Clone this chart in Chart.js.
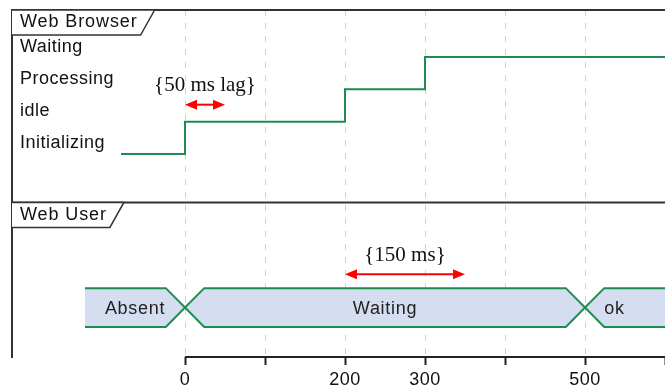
<!DOCTYPE html>
<html><head><meta charset="utf-8">
<script src="https://cdn.jsdelivr.net/npm/chart.js@4.4.1/dist/chart.umd.min.js"></script>
<style>html,body{margin:0;padding:0;background:#fff;}canvas{display:block;}</style>
</head><body>
<canvas id="c" width="665" height="390"></canvas>
<script>
// ---- data ----
const laneTitles = ['Web Browser', 'Web User'];
const browserStates = ['Initializing', 'idle', 'Processing', 'Waiting'];
const browserTimes = [-80, 0, 200, 300];
const browserValues = ['Initializing', 'idle', 'Processing', 'Waiting'];
const userTimes = [-125, 0, 500];
const userStates = ['Absent', 'Waiting', 'ok'];
const endTime = 600;
const tickTimes = [0, 100, 200, 300, 400, 500, 600];
const tickLabels = ['0', '', '200', '300', '', '500', ''];
const constraintFrom = [0, 200];
const constraintTo = [50, 350];
const constraintLabels = ['{50 ms lag}', '{150 ms}'];
const constraintLane = ['browser', 'user'];

// ---- layout / style constants ----
const X_MIN = -216.25;
const Y_MIN = -6.28, Y_MAX = 4.455;
const USER_MID = -4.75, USER_HALF = 0.6, SEPARATOR = -1.5;
const CROSS = 24; // half-width of state transition (ms)
const GREEN = '#1e8c50', BAND = '#d5def0', INK = '#222';
const SANS = '"Liberation Sans", Arial, sans-serif';
const SERIF = '"Liberation Serif", "Times New Roman", serif';

// browser stepped line
const browserData = browserTimes.map((t, i) => ({x: t, y: browserStates.indexOf(browserValues[i])}));
browserData.push({x: endTime, y: browserStates.indexOf(browserValues[browserValues.length - 1])});

// user band polygons & outlines
const bandTop = USER_MID + USER_HALF, bandBot = USER_MID - USER_HALF;
const lastIdx = userStates.length - 1;
const span = i => [userTimes[i], i < lastIdx ? userTimes[i + 1] : endTime];
const fills = userStates.map((s, i) => {
  const [t0, t1] = span(i);
  const pts = [];
  if (i > 0) { pts.push({x: t0 + CROSS, y: bandTop}); } else { pts.push({x: t0, y: bandTop}); }
  if (i < lastIdx) { pts.push({x: t1 - CROSS, y: bandTop}, {x: t1, y: USER_MID}, {x: t1 - CROSS, y: bandBot}); }
  else { pts.push({x: t1, y: bandTop}, {x: t1, y: bandBot}); }
  if (i > 0) { pts.push({x: t0 + CROSS, y: bandBot}, {x: t0, y: USER_MID}); } else { pts.push({x: t0, y: bandBot}); }
  return pts;
});
function outline(startTop) {
  const pts = [];
  userStates.forEach((s, i) => {
    const [t0, t1] = span(i);
    const yy = ((i % 2 === 0) === startTop) ? bandTop : bandBot;
    pts.push({x: i > 0 ? t0 + CROSS : t0, y: yy});
    pts.push({x: i < lastIdx ? t1 - CROSS : t1, y: yy});
    if (i < lastIdx) pts.push({x: t1, y: USER_MID});
  });
  return pts;
}

const datasets = [
  {data: browserData, stepped: 'before', borderColor: GREEN, borderWidth: 2, pointRadius: 0, fill: false, order: 0},
  {data: outline(true), borderColor: GREEN, borderWidth: 2, pointRadius: 0, fill: false, tension: 0, order: 0},
  {data: outline(false), borderColor: GREEN, borderWidth: 2, pointRadius: 0, fill: false, tension: 0, order: 0},
  ...fills.map(p => ({data: p, borderColor: 'transparent', backgroundColor: BAND, fill: 'shape', pointRadius: 0, tension: 0, order: 1}))
];

function stateAt(t) {
  let idx = 0;
  browserTimes.forEach((bt, i) => { if (bt <= t) idx = i; });
  return browserStates.indexOf(browserValues[idx]);
}

const deco = {
  id: 'deco',
  beforeDraw(chart) { chart.ctx.letterSpacing = '0.5px'; },
  afterDraw(chart) {
    const {ctx, chartArea: a, scales: {x, y}} = chart;
    ctx.save();
    // time axis line
    ctx.strokeStyle = INK; ctx.lineWidth = 2;
    ctx.beginPath(); ctx.moveTo(x.getPixelForValue(tickTimes[0]), a.bottom); ctx.lineTo(a.right, a.bottom); ctx.stroke();
    // lane frames
    const laneTops = [a.top, y.getPixelForValue(SEPARATOR)];
    ctx.strokeStyle = '#333';
    laneTops.forEach(yy => { ctx.lineWidth = 2; ctx.beginPath(); ctx.moveTo(a.left, yy); ctx.lineTo(a.right, yy); ctx.stroke(); });
    ctx.font = '18px ' + SANS;
    ctx.letterSpacing = '0.9px';
    laneTops.forEach((yy, i) => {
      const tw = ctx.measureText(laneTitles[i]).width;
      const br = a.left + 8 + tw + 3, tr = br + 14, h = 25;
      ctx.beginPath();
      ctx.moveTo(a.left, yy); ctx.lineTo(tr, yy); ctx.lineTo(br, yy + h); ctx.lineTo(a.left, yy + h);
      ctx.fillStyle = '#fff'; ctx.fill();
      ctx.lineWidth = 1.5; ctx.strokeStyle = '#333'; ctx.stroke();
      ctx.fillStyle = '#111'; ctx.textAlign = 'left'; ctx.textBaseline = 'middle';
      ctx.fillText(laneTitles[i], a.left + 8, yy + 12.5);
    });
    // user state labels
    ctx.letterSpacing = '0.7px';
    ctx.fillStyle = '#222';
    const ym = y.getPixelForValue(USER_MID) + 1;
    userStates.forEach((s, i) => {
      const [t0, t1] = span(i);
      if (i === lastIdx) {
        ctx.textAlign = 'left';
        ctx.fillText(s, x.getPixelForValue(t0 + CROSS), ym);
      } else {
        ctx.textAlign = 'center';
        ctx.fillText(s, (x.getPixelForValue(t0) + x.getPixelForValue(t1)) / 2, ym);
      }
    });
    // constraints
    ctx.letterSpacing = '0px';
    constraintLabels.forEach((lbl, i) => {
      const x0 = x.getPixelForValue(constraintFrom[i]), x1 = x.getPixelForValue(constraintTo[i]);
      const yy = constraintLane[i] === 'browser'
        ? y.getPixelForValue(stateAt(constraintFrom[i])) - 17
        : y.getPixelForValue(bandTop) - 14;
      ctx.strokeStyle = '#ff0000'; ctx.fillStyle = '#ff0000'; ctx.lineWidth = 2;
      ctx.beginPath(); ctx.moveTo(x0 + 4, yy); ctx.lineTo(x1 - 4, yy); ctx.stroke();
      [[x0, 1], [x1, -1]].forEach(([px, d]) => {
        ctx.beginPath(); ctx.moveTo(px, yy); ctx.lineTo(px + d * 12, yy - 5); ctx.lineTo(px + d * 12, yy + 5); ctx.closePath(); ctx.fill();
      });
      ctx.fillStyle = '#111'; ctx.font = '21px ' + SERIF; ctx.textAlign = 'center'; ctx.textBaseline = 'middle';
      ctx.fillText(lbl, (x0 + x1) / 2, yy - 19);
    });
    ctx.restore();
    ctx.letterSpacing = '0px';
  }
};

new Chart(document.getElementById('c'), {
  type: 'line',
  data: {datasets},
  options: {
    responsive: false, animation: false, devicePixelRatio: 1, events: [],
    layout: {padding: {top: 10, left: 0, right: 0, bottom: 0}},
    plugins: {legend: {display: false}, tooltip: {enabled: false}},
    scales: {
      x: {
        type: 'linear', position: 'bottom', min: X_MIN, max: endTime,
        afterBuildTicks: s => { s.ticks = tickTimes.map(v => ({value: v})); },
        afterFit: s => { s.height = 33; s.paddingLeft = 0; s.paddingRight = 0; },
        grid: {display: true, drawOnChartArea: true, color: '#d0d0d0', lineWidth: 1, tickColor: INK, tickWidth: 2, tickLength: 8, tickBorderDash: []},
        border: {display: false, dash: [6, 7]},
        ticks: {color: '#111', font: {family: SANS, size: 18}, padding: 4, maxRotation: 0, autoSkip: false,
          callback: (v, i) => tickLabels[i]}
      },
      y: {
        type: 'linear', position: 'left', min: Y_MIN, max: Y_MAX,
        afterBuildTicks: s => { s.ticks = browserStates.map((_, i) => ({value: i})); },
        afterFit: s => { s.width = 12; s.paddingTop = 0; s.paddingBottom = 0; },
        grid: {display: false, drawOnChartArea: false, drawTicks: false},
        border: {display: true, color: '#333', width: 2},
        ticks: {mirror: true, padding: 8, labelOffset: -10.5, color: '#111', font: {family: SANS, size: 18},
          autoSkip: false, callback: v => browserStates[v]}
      }
    }
  },
  plugins: [deco]
});
</script>
</body></html>
